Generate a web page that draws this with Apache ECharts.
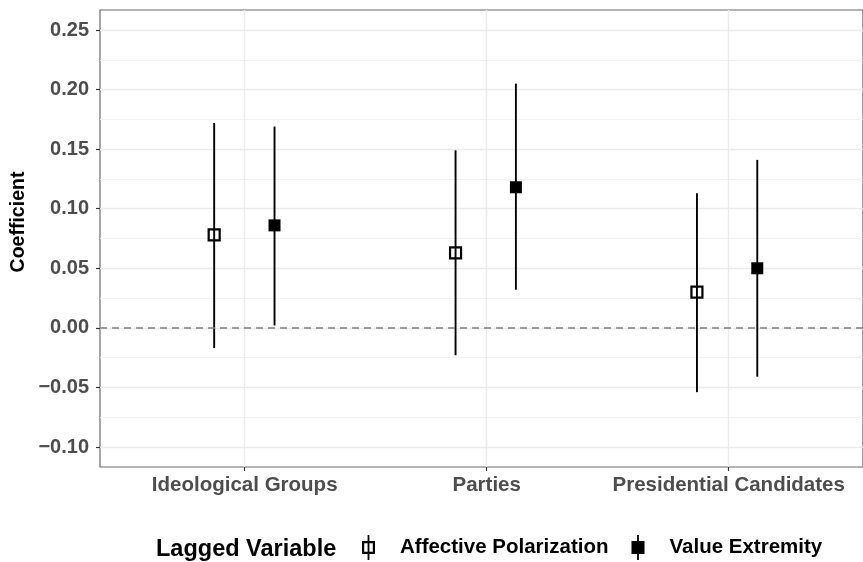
<!DOCTYPE html>
<html>
<head>
<meta charset="utf-8">
<script src="https://cdn.jsdelivr.net/npm/echarts@6/dist/echarts.min.js"></script>
<style>html,body{margin:0;padding:0;background:#fff}#c{width:863px;height:562px}</style>
</head>
<body>
<div id="c"></div>
<script>
// ---- data ----
const categories = ['Ideological Groups', 'Parties', 'Presidential Candidates'];
const seriesNames = ['Affective Polarization', 'Value Extremity'];
const apEst  = [0.078, 0.063, 0.030];
const apLow  = [-0.017, -0.023, -0.054];
const apHigh = [0.172, 0.149, 0.113];
const veEst  = [0.086, 0.118, 0.050];
const veLow  = [0.002, 0.032, -0.041];
const veHigh = [0.169, 0.205, 0.141];
const yTickMin = -0.10, yTickMax = 0.25, yTickStep = 0.05;

// ---- layout ----
const FONT = '"Liberation Sans", Arial, Helvetica, sans-serif';
const dodge = 0.125;
const XMIN = 0.402, XMAX = 3.563;
const PX_PER_UNIT = 417 / (yTickMax - yTickMin);
const YMIN = yTickMin - 20 / PX_PER_UNIT;
const YMAX = yTickMax + 20 / PX_PER_UNIT;

function rows(est, low, high, off) {
  return categories.map((c, i) => [i + 1 + off, low[i], high[i], est[i]]);
}
const apRows = rows(apEst, apLow, apHigh, -dodge);
const veRows = rows(veEst, veLow, veHigh, dodge);

const AP_ICON = 'path://M5.6,0 L7.4,0 L7.4,6 L13,6 L13,19 L7.4,19 L7.4,25 L5.6,25 L5.6,19 L0,19 L0,6 L5.6,6 Z M2.2,8.2 L2.2,16.8 L5.6,16.8 L5.6,8.2 Z M7.4,8.2 L7.4,16.8 L10.8,16.8 L10.8,8.2 Z';
const VE_ICON = 'path://M5.6,0 L7.4,0 L7.4,6 L13,6 L13,19 L7.4,19 L7.4,25 L5.6,25 L5.6,19 L0,19 L0,6 L5.6,6 Z';

function errRender(params, api) {
  const p1 = api.coord([api.value(0), api.value(1)]);
  const p2 = api.coord([api.value(0), api.value(2)]);
  return { type: 'line', shape: { x1: p1[0], y1: p1[1], x2: p2[0], y2: p2[1] },
           style: { stroke: '#000', lineWidth: 1.9 } };
}

const chart = echarts.init(document.getElementById('c'), null, { renderer: 'canvas' });
const legendText = { fontFamily: FONT, fontSize: 20.5, fontWeight: 'bold', color: '#000' };
chart.setOption({
  animation: false,
  backgroundColor: '#fff',
  title: { text: 'Lagged Variable', left: 156, top: 538, padding: 0,
           textStyle: { fontFamily: FONT, fontSize: 23.5, fontWeight: 'bold', color: '#000' } },
  legend: [
    { left: 362, top: 535, padding: 0, itemWidth: 53, itemHeight: 25, selectedMode: false,
      textStyle: legendText,
      data: [{ name: seriesNames[0], icon: AP_ICON, itemStyle: { color: '#000', borderWidth: 0 } }] },
    { left: 631.5, top: 535, padding: 0, itemWidth: 53, itemHeight: 25, selectedMode: false,
      textStyle: legendText,
      data: [{ name: seriesNames[1], icon: VE_ICON, itemStyle: { color: '#000', borderWidth: 0 } }] }
  ],
  graphic: [{
    type: 'text', x: 19, y: 222, rotation: Math.PI / 2,
    style: { text: 'Coefficient', font: 'bold 19.5px ' + FONT, fill: '#000', align: 'center', verticalAlign: 'middle' }
  }],
  grid: [
    { left: 100, right: -2, top: 10, bottom: 95, show: true, borderColor: '#6b6b6b', borderWidth: 1.2, backgroundColor: 'transparent' },
    { left: 100, right: -2, top: 30, bottom: 115 },
    { left: 244.7, right: 134.3, top: 10, bottom: 95 }
  ],
  xAxis: [
    { gridIndex: 0, type: 'value', min: XMIN, max: XMAX, show: false },
    { gridIndex: 1, type: 'value', min: 0, max: 1, show: false },
    { gridIndex: 2, type: 'category', data: categories, boundaryGap: false,
      axisLine: { show: false },
      axisTick: { show: true, interval: 0, length: 4, lineStyle: { color: '#333', width: 1.2 } },
      axisLabel: { interval: 0, margin: 8, fontFamily: FONT, fontSize: 20.5, fontWeight: 'bold', color: '#4d4d4d' },
      splitLine: { show: true, interval: 0, lineStyle: { color: '#ebebeb', width: 1.4 } } }
  ],
  yAxis: [
    { gridIndex: 0, type: 'value', min: YMIN, max: YMAX, show: false },
    { gridIndex: 1, type: 'value', min: yTickMin, max: yTickMax, interval: yTickStep,
      axisLine: { show: false },
      axisTick: { show: true, length: 4, lineStyle: { color: '#333', width: 1.2 } },
      axisLabel: { margin: 11, fontFamily: FONT, fontSize: 20, fontWeight: 'bold', color: '#4d4d4d',
                   formatter: v => (v < -1e-9 ? '\u2212' : '') + Math.abs(v).toFixed(2) },
      splitLine: { show: true, lineStyle: { color: '#ebebeb', width: 1.4 } },
      minorTick: { show: false, splitNumber: 2 },
      minorSplitLine: { show: true, lineStyle: { color: '#f1f1f1', width: 0.9 } } },
    { gridIndex: 2, type: 'value', min: 0, max: 1, show: false }
  ],
  series: [
    { type: 'custom', name: 'apErr', xAxisIndex: 0, yAxisIndex: 0, data: apRows, renderItem: errRender,
      encode: { x: 0, y: [1, 2] }, z: 3,
      markLine: { silent: true, symbol: 'none', label: { show: false }, animation: false,
                  lineStyle: { type: [7, 5], color: '#7f7f7f', width: 1.5 },
                  data: [{ yAxis: 0 }] } },
    { type: 'custom', name: 'veErr', xAxisIndex: 0, yAxisIndex: 0, data: veRows, renderItem: errRender,
      encode: { x: 0, y: [1, 2] }, z: 3 },
    { type: 'scatter', name: seriesNames[0], xAxisIndex: 0, yAxisIndex: 0, z: 4,
      data: apRows.map(r => [r[0], r[3]]), symbol: 'rect', symbolSize: 11,
      itemStyle: { color: 'rgba(255,255,255,0)', borderColor: '#000', borderWidth: 2.2, opacity: 1 } },
    { type: 'scatter', name: seriesNames[1], xAxisIndex: 0, yAxisIndex: 0, z: 4,
      data: veRows.map(r => [r[0], r[3]]), symbol: 'rect', symbolSize: 12,
      itemStyle: { color: '#000', opacity: 1 } }
  ]
});
</script>
</body>
</html>
